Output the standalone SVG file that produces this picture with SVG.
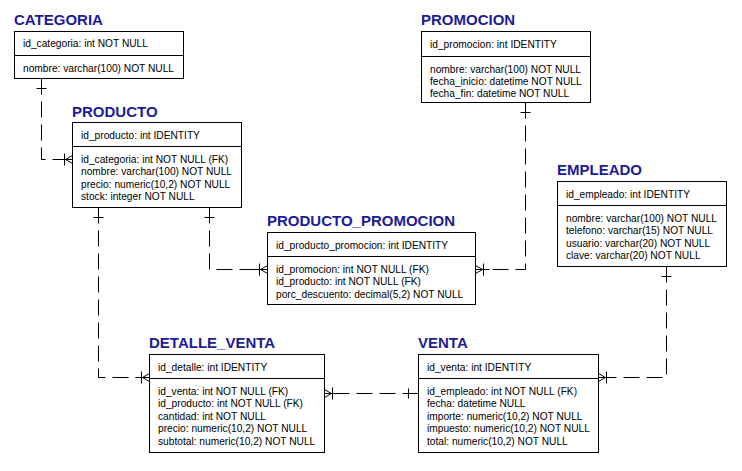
<svg xmlns="http://www.w3.org/2000/svg" width="742" height="471" viewBox="0 0 742 471">
<defs>
<style>
.box{fill:#fff;stroke:#000;stroke-width:1}
.div{stroke:#000;stroke-width:1}
.t{font-family:"Liberation Sans",Arial,sans-serif;font-size:15px;font-weight:bold;fill:#1c1c96}
.a{font-family:"Liberation Sans",Arial,sans-serif;font-size:10.2px;fill:#000}
.c{fill:none;stroke:#000;stroke-width:1;stroke-dasharray:16 7}
.m{fill:none;stroke:#000;stroke-width:1}
</style>
<marker id="one" markerUnits="userSpaceOnUse" markerWidth="20" markerHeight="16" viewBox="0 -8 20 16" refX="0" refY="0" orient="auto" overflow="visible">
<path class="m" d="M0,0 H14 M10,-5 V5"/>
</marker>
<marker id="many" markerUnits="userSpaceOnUse" markerWidth="20" markerHeight="16" viewBox="-16 -8 20 16" refX="0" refY="0" orient="auto" overflow="visible">
<path class="m" d="M0,0 H-14 M0,-4 L-7,0 L0,4 M-8,-6 V6"/>
</marker>
</defs>
<rect width="742" height="471" fill="#fff"/>

<g id="connectors">
<path class="c" d="M41.5,78.5 V159.5 H72.5" marker-start="url(#one)" marker-end="url(#many)"/>
<path class="c" d="M98.5,207.5 V377.5 H149.5" marker-start="url(#one)" marker-end="url(#many)"/>
<path class="c" d="M209.5,207.5 V269.5 H267.5" marker-start="url(#one)" marker-end="url(#many)"/>
<path class="c" d="M525.5,102.5 V269.5 H475.5" marker-start="url(#one)" marker-end="url(#many)"/>
<path class="c" d="M418.5,393.5 H324.5" marker-start="url(#one)" marker-end="url(#many)"/>
<path class="c" d="M666.5,266.5 V377.5 H598.5" marker-start="url(#one)" marker-end="url(#many)"/>
</g>

<g id="categoria">
<text class="t" x="14" y="25">CATEGORIA</text>
<rect class="box" x="14.5" y="31.5" width="169" height="47"/>
<line class="div" x1="14.5" y1="55.5" x2="183.5" y2="55.5"/>
<text class="a" x="23" y="47">id_categoria: int NOT NULL</text>
<text class="a" x="23" y="71.5">nombre: varchar(100) NOT NULL</text>
</g>

<g id="producto">
<text class="t" x="72" y="117">PRODUCTO</text>
<rect class="box" x="72.5" y="122.5" width="169" height="85"/>
<line class="div" x1="72.5" y1="146.5" x2="241.5" y2="146.5"/>
<text class="a" x="81" y="139">id_producto: int IDENTITY</text>
<text class="a" x="81" y="162.5">id_categoria: int NOT NULL (FK)</text>
<text class="a" x="81" y="175">nombre: varchar(100) NOT NULL</text>
<text class="a" x="81" y="187.5">precio: numeric(10,2) NOT NULL</text>
<text class="a" x="81" y="200">stock: integer NOT NULL</text>
</g>

<g id="promocion">
<text class="t" x="421" y="25">PROMOCION</text>
<rect class="box" x="421.5" y="31.5" width="169" height="71"/>
<line class="div" x1="421.5" y1="56.5" x2="590.5" y2="56.5"/>
<text class="a" x="430" y="47.5">id_promocion: int IDENTITY</text>
<text class="a" x="430" y="72.5">nombre: varchar(100) NOT NULL</text>
<text class="a" x="430" y="85">fecha_inicio: datetime NOT NULL</text>
<text class="a" x="430" y="97">fecha_fin: datetime NOT NULL</text>
</g>

<g id="producto_promocion">
<text class="t" x="267" y="226">PRODUCTO_PROMOCION</text>
<rect class="box" x="267.5" y="232.5" width="208" height="72"/>
<line class="div" x1="267.5" y1="256.5" x2="475.5" y2="256.5"/>
<text class="a" x="276" y="248.5">id_producto_promocion: int IDENTITY</text>
<text class="a" x="276" y="272.5">id_promocion: int NOT NULL (FK)</text>
<text class="a" x="276" y="285">id_producto: int NOT NULL (FK)</text>
<text class="a" x="276" y="297.5">porc_descuento: decimal(5,2) NOT NULL</text>
</g>

<g id="empleado">
<text class="t" x="557" y="175">EMPLEADO</text>
<rect class="box" x="557.5" y="181.5" width="169" height="85"/>
<line class="div" x1="557.5" y1="205.5" x2="726.5" y2="205.5"/>
<text class="a" x="566" y="197.5">id_empleado: int IDENTITY</text>
<text class="a" x="566" y="221.5">nombre: varchar(100) NOT NULL</text>
<text class="a" x="566" y="234">telefono: varchar(15) NOT NULL</text>
<text class="a" x="566" y="246.5">usuario: varchar(20) NOT NULL</text>
<text class="a" x="566" y="259">clave: varchar(20) NOT NULL</text>
</g>

<g id="detalle_venta">
<text class="t" x="149" y="348">DETALLE_VENTA</text>
<rect class="box" x="149.5" y="354.5" width="175" height="98"/>
<line class="div" x1="149.5" y1="378.5" x2="324.5" y2="378.5"/>
<text class="a" x="158" y="370.5">id_detalle: int IDENTITY</text>
<text class="a" x="158" y="394.5">id_venta: int NOT NULL (FK)</text>
<text class="a" x="158" y="407">id_producto: int NOT NULL (FK)</text>
<text class="a" x="158" y="419.5">cantidad: int NOT NULL</text>
<text class="a" x="158" y="432">precio: numeric(10,2) NOT NULL</text>
<text class="a" x="158" y="444.5">subtotal: numeric(10,2) NOT NULL</text>
</g>

<g id="venta">
<text class="t" x="418" y="348">VENTA</text>
<rect class="box" x="418.5" y="354.5" width="180" height="98"/>
<line class="div" x1="418.5" y1="378.5" x2="598.5" y2="378.5"/>
<text class="a" x="427" y="370.5">id_venta: int IDENTITY</text>
<text class="a" x="427" y="394.5">id_empleado: int NOT NULL (FK)</text>
<text class="a" x="427" y="407">fecha: datetime NULL</text>
<text class="a" x="427" y="419.5">importe: numeric(10,2) NOT NULL</text>
<text class="a" x="427" y="432">impuesto: numeric(10,2) NOT NULL</text>
<text class="a" x="427" y="444.5">total: numeric(10,2) NOT NULL</text>
</g>
</svg>
